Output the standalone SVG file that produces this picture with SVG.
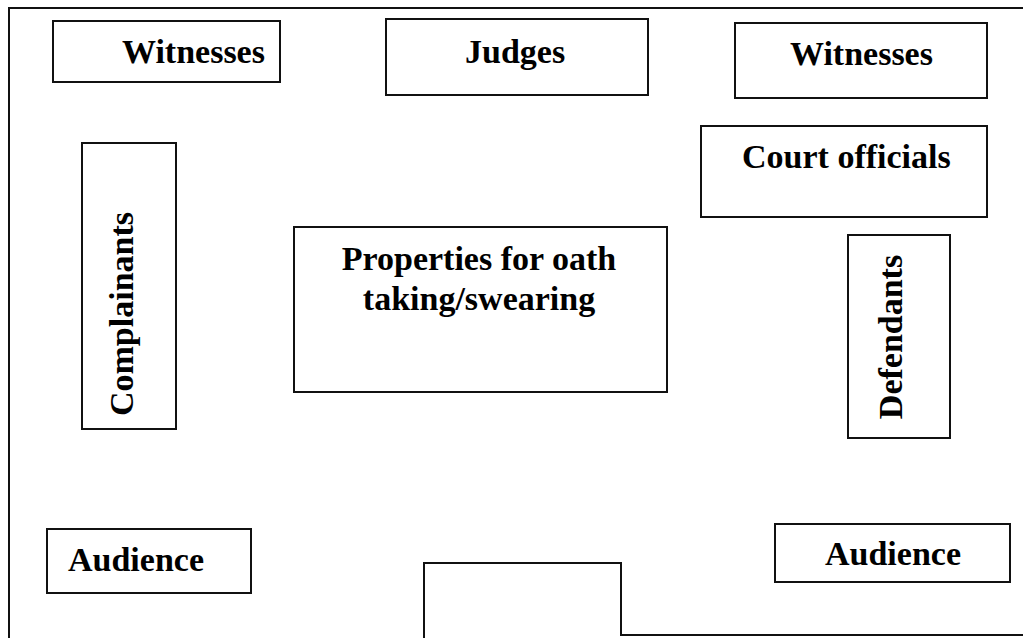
<svg xmlns="http://www.w3.org/2000/svg" width="1023" height="638" viewBox="0 0 1023 638">
<style>
.box{fill:#fff;stroke:#111;stroke-width:2}
.wall{fill:none;stroke:#111;stroke-width:2}
.lbl{font-family:"Liberation Serif","Times New Roman",serif;font-weight:bold;font-size:34px;fill:#000}
.mid{text-anchor:middle}
</style>
<rect width="1023" height="638" fill="#fff"/>
<g id="walls">
<path class="wall" d="M9,638 V8 H1023"/>
<path class="wall" d="M424,638 V563 H621 V635 H1023"/>
</g>
<g id="witnesses-left"><rect class="box" x="53" y="21" width="227" height="61"/><text class="lbl" x="122" y="63">Witnesses</text></g>
<g id="judges"><rect class="box" x="386" y="19" width="262" height="76"/><text class="lbl" x="465" y="63">Judges</text></g>
<g id="witnesses-right"><rect class="box" x="735" y="23" width="252" height="75"/><text class="lbl" x="790" y="65">Witnesses</text></g>
<g id="court-officials"><rect class="box" x="701" y="126" width="286" height="91"/><text class="lbl" x="742" y="168">Court officials</text></g>
<g id="complainants"><rect class="box" x="82" y="143" width="94" height="286"/><text class="lbl mid" transform="translate(133,314) rotate(-90)">Complainants</text></g>
<g id="properties"><rect class="box" x="294" y="227" width="373" height="165"/><text class="lbl mid" x="479" y="270">Properties for oath</text><text class="lbl mid" x="479" y="310">taking/swearing</text></g>
<g id="defendants"><rect class="box" x="848" y="235" width="102" height="203"/><text class="lbl mid" transform="translate(902,337) rotate(-90)">Defendants</text></g>
<g id="audience-left"><rect class="box" x="47" y="529" width="204" height="64"/><text class="lbl" x="68" y="571">Audience</text></g>
<g id="audience-right"><rect class="box" x="775" y="524" width="235" height="58"/><text class="lbl" x="825" y="565">Audience</text></g>
<g id="connectors"></g>
</svg>
